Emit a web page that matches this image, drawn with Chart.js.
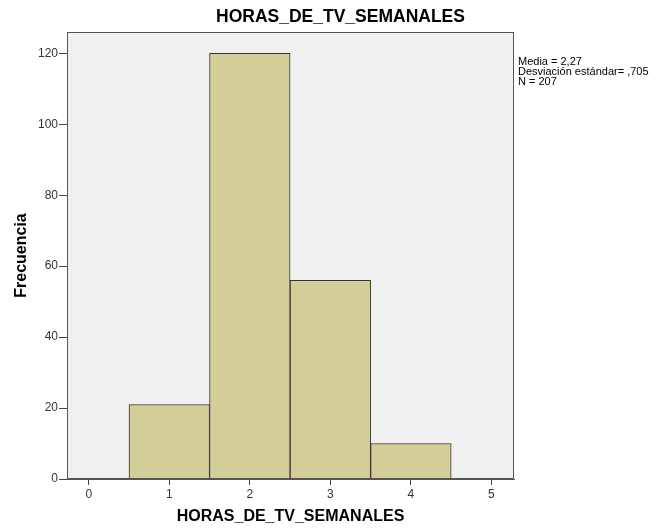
<!DOCTYPE html>
<html>
<head>
<meta charset="utf-8">
<script src="https://cdn.jsdelivr.net/npm/chart.js@4"></script>
<style>
  html, body { margin: 0; padding: 0; background: #fff; }
  #wrap { width: 665px; height: 530px; }
</style>
</head>
<body>
<div id="wrap"><canvas id="histograma" width="665" height="530"></canvas></div>
<script>
var categorias = [1, 2, 3, 4];
var frecuencias = [21, 120, 56, 10];
var ticksX = [0, 1, 2, 3, 4, 5];
var ticksY = [0, 20, 40, 60, 80, 100, 120];
var titulo = "HORAS_DE_TV_SEMANALES";
var estadisticos = ["Media = 2,27", "Desviación estándar= ,705", "N = 207"];

var fuente = "'Liberation Sans', Arial, sans-serif";

// fondo gris y marco del area de trazado, titulo y estadisticos
var decoracion = {
  id: "decoracion",
  beforeDatasetsDraw: function (chart) {
    var a = chart.chartArea, ctx = chart.ctx;
    ctx.save();
    ctx.fillStyle = "#f0f0f0";
    ctx.fillRect(a.left, a.top, a.right - a.left, a.bottom - a.top);
    ctx.restore();
  },
  afterDraw: function (chart) {
    var a = chart.chartArea, ctx = chart.ctx;
    ctx.save();
    ctx.strokeStyle = "#555";
    ctx.lineWidth = 1;
    ctx.strokeRect(a.left + 0.5, a.top + 0.5, a.right - a.left - 1, a.bottom - a.top - 1);
    ctx.fillStyle = "#000";
    ctx.font = "bold 17.5px " + fuente;
    ctx.textAlign = "center";
    ctx.textBaseline = "middle";
    ctx.fillText(titulo, chart.width / 2 + 8, 17);
    ctx.font = "11px " + fuente;
    ctx.textAlign = "left";
    for (var i = 0; i < estadisticos.length; i++) {
      ctx.fillText(estadisticos[i], a.right + 4, 62 + i * 10);
    }
    ctx.restore();
  }
};

var ctx = document.getElementById("histograma");
var grafica = new Chart(ctx, {
  type: "bar",
  data: {
    datasets: [{
      label: titulo,
      data: categorias.map(function (c, i) { return { x: c, y: frecuencias[i] }; }),
      backgroundColor: "#d3ce98",
      borderColor: "#333333",
      borderWidth: 1,
      barPercentage: 1,
      categoryPercentage: 1
    }]
  },
  options: {
    responsive: false,
    animation: false,
    layout: { padding: { top: 32, right: 151, left: 0, bottom: 0 } },
    plugins: {
      legend: { display: false },
      title: { display: false },
      tooltip: { enabled: false }
    },
    scales: {
      x: {
        type: "linear",
        offset: false,
        min: -0.27,
        max: 5.28,
        afterBuildTicks: function (s) { s.ticks = ticksX.map(function (v) { return { value: v }; }); },
        afterFit: function (s) { s.height = 51; },
        grid: { offset: false, drawOnChartArea: false, tickLength: 6, color: "#444", tickColor: "#444" },
        border: { color: "#555" },
        ticks: { color: "#333", font: { family: fuente, size: 12 }, padding: 2, maxRotation: 0 },
        title: { display: true, text: titulo, color: "#000", font: { family: fuente, size: 16, weight: "bold" }, padding: { top: 13 } }
      },
      y: {
        min: 0,
        max: 126,
        afterBuildTicks: function (s) { s.ticks = ticksY.map(function (v) { return { value: v }; }); },
        afterFit: function (s) { s.width = 67; },
        grid: { drawOnChartArea: false, tickLength: 8, color: "#444", tickColor: "#444" },
        border: { color: "#555" },
        ticks: { color: "#333", font: { family: fuente, size: 12 }, padding: 1 },
        title: { display: true, text: "Frecuencia", color: "#000", font: { family: fuente, size: 16, weight: "bold" }, padding: { top: 12, bottom: 4 } }
      }
    }
  },
  plugins: [decoracion]
});
</script>
</body>
</html>
